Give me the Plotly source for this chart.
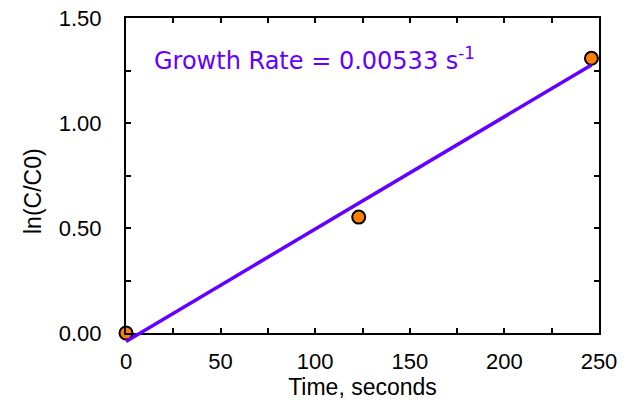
import plotly.graph_objects as go

# Data
time_s = [0, 123, 246]
ln_ratio = [0.0, 0.552, 1.308]
fit_time = [0, 246]
fit_ln = [-0.04, 1.276]
x_ticks = [0, 50, 100, 150, 200, 250]
y_ticks = [0.0, 0.5, 1.0, 1.5]
annotation_text = "Growth Rate = 0.00533 s<sup>-1</sup>"

W, H = 630, 406
L, R, T, B = 110, 31, 18, 60
pw, ph = W - L - R, H - T - B
# main plot area in pixels: x 126..599, y 18..333
xoff = 16
yoff = 13
xdom0 = xoff / pw
ydom0 = yoff / ph
x_lo = -xoff * 250 / (pw - xoff)
y_lo = -yoff * 1.5 / (ph - yoff)

purple = "#6400ff"

fig = go.Figure()
fig.add_trace(go.Scatter(x=fit_time, y=fit_ln, mode="lines",
                         line=dict(color=purple, width=3.5),
                         xaxis="x2", yaxis="y2", showlegend=False))
fig.add_trace(go.Scatter(x=time_s, y=ln_ratio, mode="markers",
                         marker=dict(size=13, color="#ff8000",
                                     line=dict(color="black", width=2)),
                         cliponaxis=False, showlegend=False))

tickfont = dict(family="Liberation Sans, Arial, sans-serif", size=22, color="black")
fig.update_layout(
    width=W, height=H,
    margin=dict(l=L, r=R, t=T, b=B, pad=0, autoexpand=False),
    paper_bgcolor="white", plot_bgcolor="rgba(0,0,0,0)",
    xaxis=dict(domain=[xdom0, 1], range=[0, 250], tickvals=x_ticks,
               ticks="inside", ticklen=5, tickwidth=1.5, tickcolor="black",
               showline=True, linecolor="black", linewidth=2, mirror="ticks",
               showgrid=False, zeroline=False, tickfont=tickfont,
               ticklabelstandoff=8, automargin=False,
               minor=dict(dtick=25, ticks="inside", ticklen=5, tickwidth=1.5,
                          tickcolor="black", showgrid=False),
               anchor="y",
               title=dict(text="Time, seconds", standoff=3,
                          font=dict(family="Liberation Sans, Arial, sans-serif", size=23, color="black"))),
    yaxis=dict(domain=[ydom0, 1], range=[0, 1.5], tickvals=y_ticks, tickformat=".2f",
               ticks="inside", ticklen=5, tickwidth=1.5, tickcolor="black",
               showline=True, linecolor="black", linewidth=2, mirror="ticks",
               showgrid=False, zeroline=False, tickfont=tickfont,
               ticklabelstandoff=18, automargin=False,
               minor=dict(dtick=0.25, ticks="inside", ticklen=5, tickwidth=1.5,
                          tickcolor="black", showgrid=False),
               anchor="x"),
    xaxis2=dict(domain=[0, 1], range=[x_lo, 250], visible=False, anchor="y2",
                fixedrange=True, automargin=False),
    yaxis2=dict(domain=[0, 1], range=[y_lo, 1.5], visible=False, anchor="x2",
                fixedrange=True, automargin=False),
)

fig.add_annotation(x=13.5, y=1.305, xref="x", yref="y", text=annotation_text,
                   showarrow=False, xanchor="left", yanchor="middle",
                   font=dict(family="DejaVu Sans", size=24, color=purple))
fig.add_annotation(x=(33 - L) / pw, y=(H - B - 191) / ph, xref="paper", yref="paper",
                   text="ln(C/C0)", showarrow=False, textangle=-90,
                   xanchor="center", yanchor="middle",
                   font=dict(family="Liberation Sans, Arial, sans-serif", size=23, color="black"))

fig.write_html("out.html", config={"displayModeBar": False},
               post_script="document.body.style.margin='0';document.body.style.overflow='hidden';")
